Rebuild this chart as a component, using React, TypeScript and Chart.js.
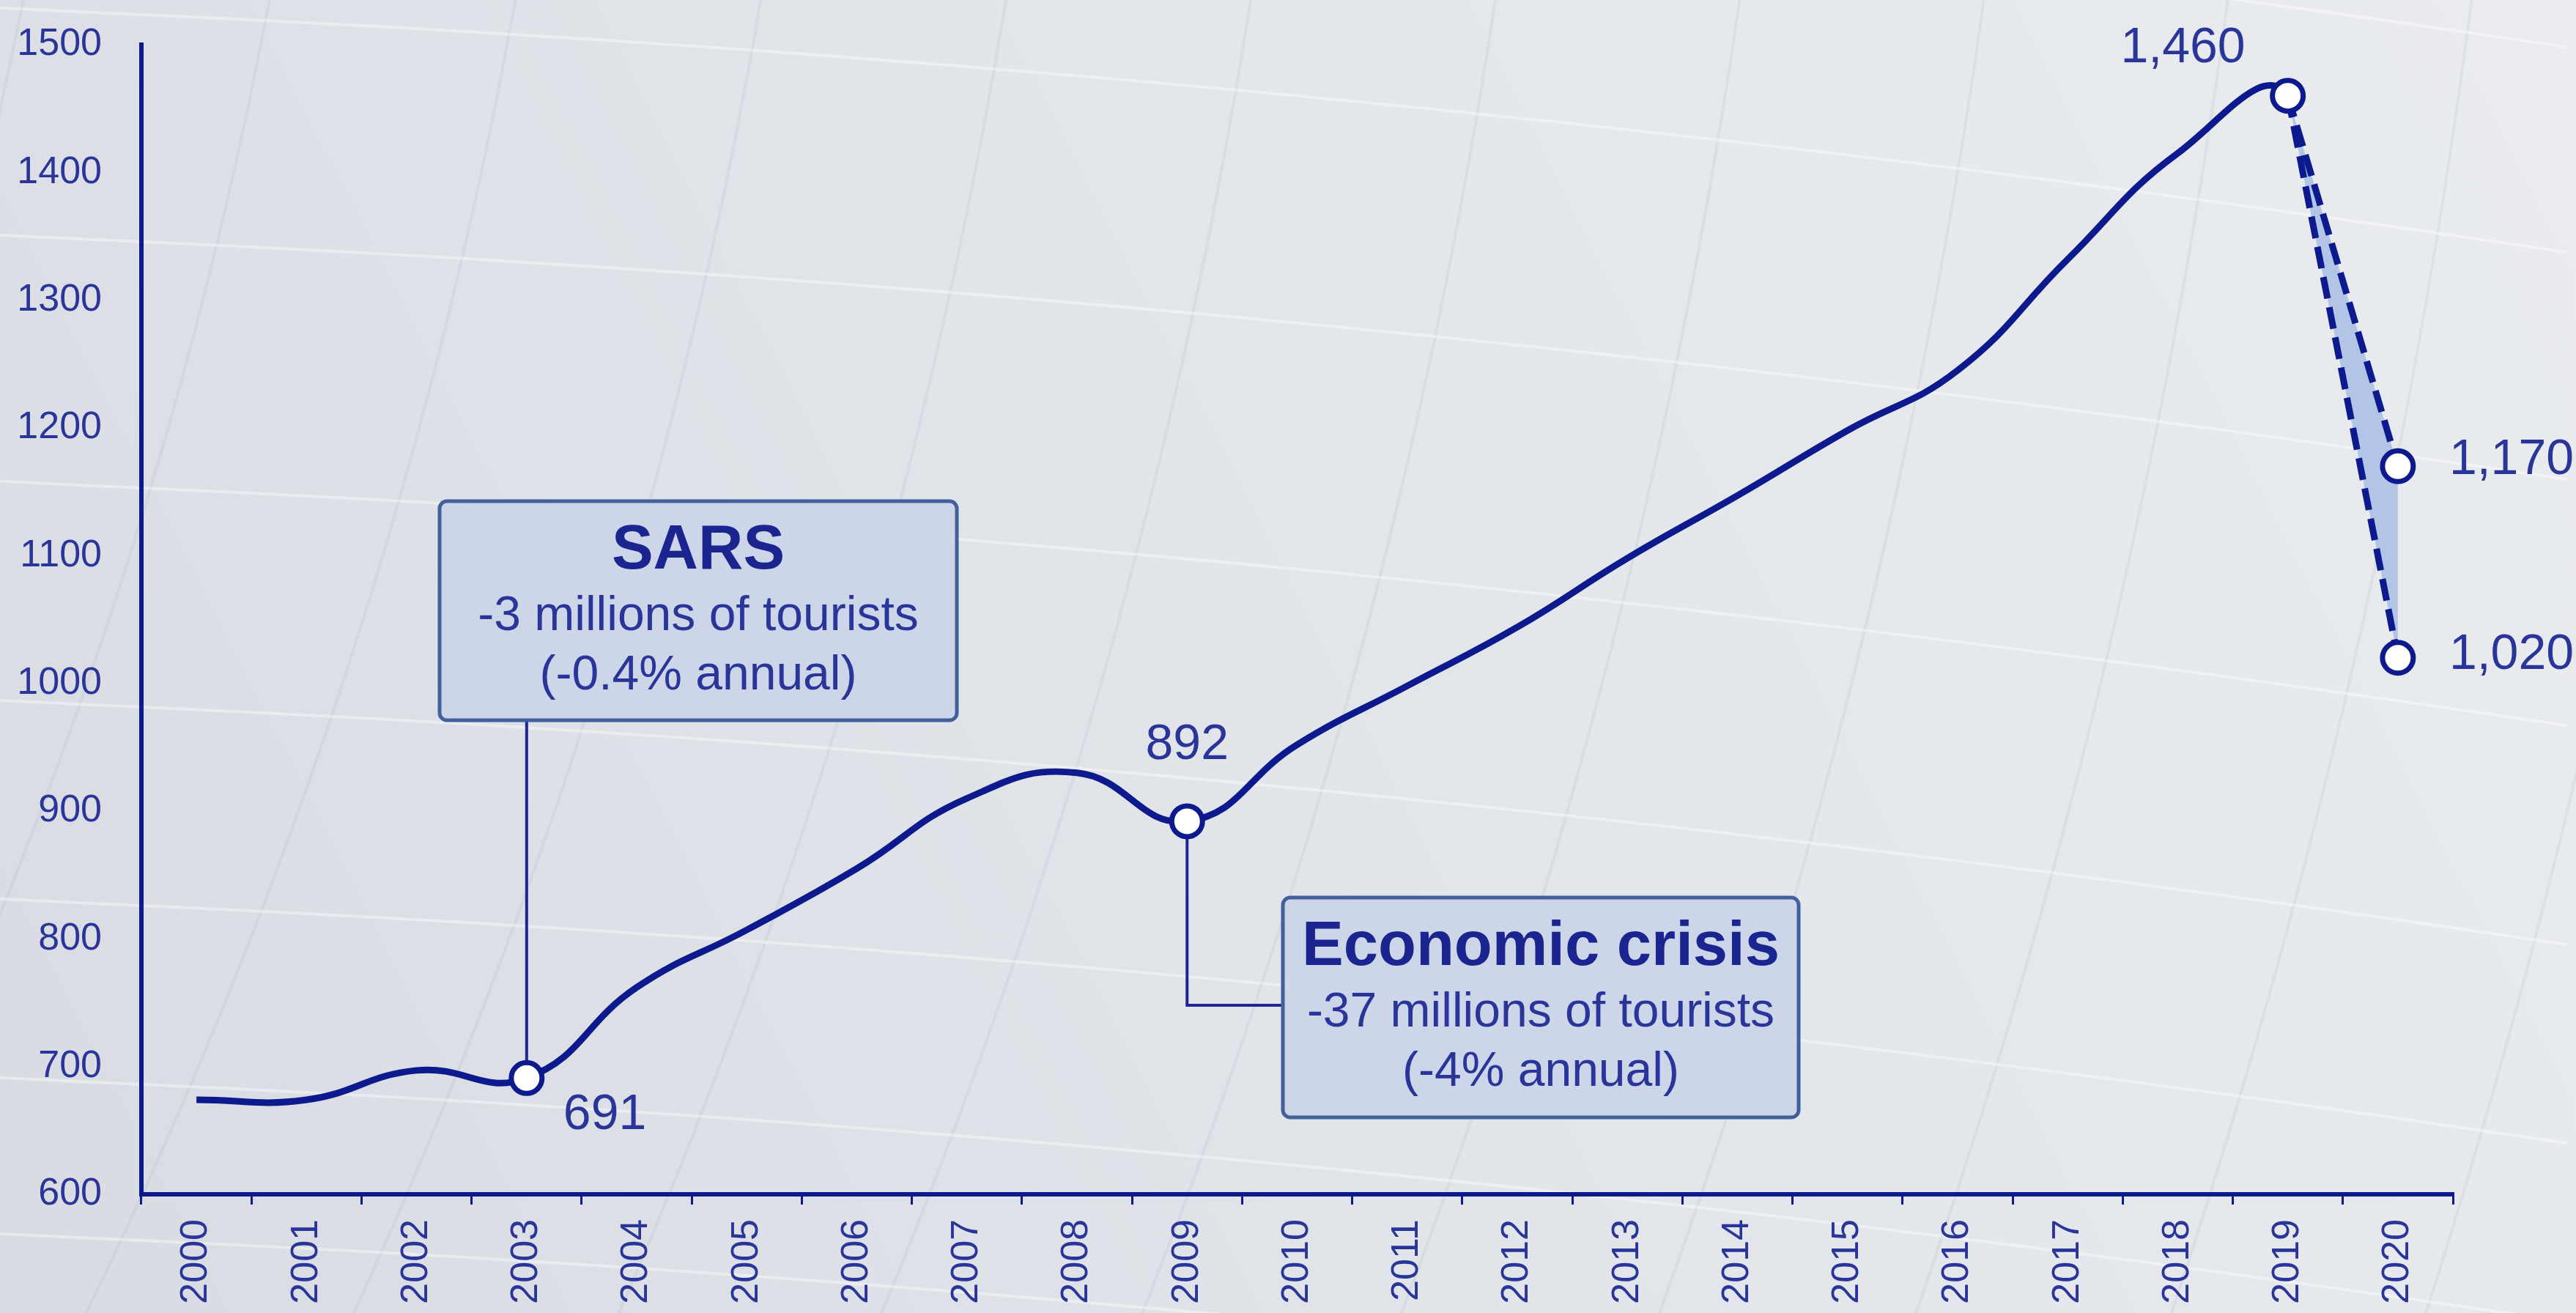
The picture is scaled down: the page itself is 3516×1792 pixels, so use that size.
import React, { useEffect, useRef } from 'react';
import { Chart, registerables } from 'chart.js';

Chart.register(...registerables);

// ---------- data ----------
const years = [
  '2000', '2001', '2002', '2003', '2004', '2005', '2006', '2007', '2008', '2009', '2010',
  '2011', '2012', '2013', '2014', '2015', '2016', '2017', '2018', '2019', '2020',
];
// International tourist arrivals (millions), 2000-2019
const arrivals = [674, 674, 697, 691, 762, 807, 855, 910, 930, 892, 952, 998, 1044, 1098, 1147, 1198, 1245, 1332, 1415, 1460];
// 2020 scenarios (high, low)
const forecast2020 = [1170, 1020];
const markedYears = ['2003', '2009', '2019'];
const yMin = 600;
const yMax = 1500;
const yStep = 100;
const sarsNote = ['SARS', '-3 millions of tourists', '(-0.4% annual)'];
const crisisNote = ['Economic crisis', '-37 millions of tourists', '(-4% annual)'];

// ---------- styles ----------
const NAVY = '#0c1a8e';
const TEXT = '#2a3599';
const FILL = '#b3c5e7';
const LABEL_FONT = '"Liberation Sans", Arial, sans-serif';

const W = 3516;
const H = 1792;

const fmt = (v: number) => v.toLocaleString('en-US');

const bgPlugin = {
  id: 'bgDecor',
  beforeDraw(chart: any) {
    const { ctx } = chart;
    const w = chart.width;
    const h = chart.height;
    ctx.save();
    const g = ctx.createLinearGradient(0, h, w, 0);
    g.addColorStop(0, '#d8dbe2');
    g.addColorStop(0.45, '#e1e4e9');
    g.addColorStop(1, '#eaecef');
    ctx.fillStyle = g;
    ctx.fillRect(0, 0, w, h);
    // faint meridian arcs
    ctx.strokeStyle = 'rgba(150,160,182,0.12)';
    ctx.lineWidth = 4;
    const cx = -6000;
    const cy = -1200;
    for (let r = 6150; r < 10000; r += 330) {
      ctx.beginPath();
      ctx.arc(cx, cy, r, 0, Math.PI / 2);
      ctx.stroke();
    }
    // white parallels
    ctx.strokeStyle = 'rgba(255,255,255,0.4)';
    ctx.lineWidth = 4;
    const starts = [-260, 20, 330, 666, 965, 1236, 1480, 1693];
    for (const y0 of starts) {
      ctx.beginPath();
      for (let x = 0; x <= w; x += 24) {
        const dx = x - 193;
        const y = y0 + 0.045 * dx + 1.6e-5 * dx * Math.abs(dx);
        if (x === 0) ctx.moveTo(x, y);
        else ctx.lineTo(x, y);
      }
      ctx.stroke();
    }
    ctx.restore();
  },
};

const SARS_BOX = { x: 600, y: 684, w: 706, h: 299 };
const CRISIS_BOX = { x: 1751, y: 1225, w: 704, h: 300 };

function drawBox(ctx: CanvasRenderingContext2D, box: any, lines: string[]) {
  ctx.save();
  ctx.beginPath();
  (ctx as any).roundRect(box.x, box.y, box.w, box.h, 10);
  ctx.fillStyle = 'rgba(203,213,232,0.92)';
  ctx.fill();
  ctx.lineWidth = 5;
  ctx.strokeStyle = '#41609c';
  ctx.stroke();
  ctx.textAlign = 'center';
  ctx.textBaseline = 'alphabetic';
  const cx = box.x + box.w / 2;
  ctx.font = `bold 85px ${LABEL_FONT}`;
  ctx.fillStyle = '#1b2590';
  ctx.fillText(lines[0], cx, box.y + 92);
  ctx.font = `66px ${LABEL_FONT}`;
  ctx.fillStyle = TEXT;
  ctx.fillText(lines[1], cx, box.y + 176);
  ctx.fillText(lines[2], cx, box.y + 257);
  ctx.restore();
}

const notesPlugin = {
  id: 'notes',
  beforeDatasetsDraw(chart: any) {
    const { ctx } = chart;
    const xs = chart.scales.x;
    const ys = chart.scales.y;
    const i03 = years.indexOf('2003');
    const i09 = years.indexOf('2009');
    const x03 = xs.getPixelForValue(i03);
    const y03 = ys.getPixelForValue(arrivals[i03]);
    const x09 = xs.getPixelForValue(i09);
    const y09 = ys.getPixelForValue(arrivals[i09]);
    ctx.save();
    ctx.strokeStyle = '#1d2691';
    ctx.lineWidth = 4;
    ctx.beginPath();
    ctx.moveTo(x03, SARS_BOX.y + SARS_BOX.h);
    ctx.lineTo(x03, y03);
    ctx.stroke();
    const elbowY = CRISIS_BOX.y + 147;
    ctx.beginPath();
    ctx.moveTo(x09, y09);
    ctx.lineTo(x09, elbowY);
    ctx.lineTo(CRISIS_BOX.x, elbowY);
    ctx.stroke();
    ctx.restore();
  },
  afterDatasetsDraw(chart: any) {
    const { ctx } = chart;
    const xs = chart.scales.x;
    const ys = chart.scales.y;
    drawBox(ctx, SARS_BOX, sarsNote);
    drawBox(ctx, CRISIS_BOX, crisisNote);

    const px = (i: number) => xs.getPixelForValue(i);
    const py = (v: number) => ys.getPixelForValue(v);
    ctx.save();
    ctx.fillStyle = TEXT;
    ctx.font = `68px ${LABEL_FONT}`;
    ctx.textBaseline = 'alphabetic';
    const i03 = years.indexOf('2003');
    const i09 = years.indexOf('2009');
    const i19 = years.indexOf('2019');
    const i20 = years.indexOf('2020');
    ctx.textAlign = 'left';
    ctx.fillText(fmt(arrivals[i03]), px(i03) + 50, py(arrivals[i03]) + 70);
    ctx.textAlign = 'center';
    ctx.fillText(fmt(arrivals[i09]), px(i09), py(arrivals[i09]) - 85);
    ctx.textAlign = 'right';
    ctx.fillText(fmt(arrivals[i19]), px(i19) - 58, py(arrivals[i19]) - 46);
    ctx.textAlign = 'left';
    ctx.fillText(fmt(forecast2020[0]), px(i20) + 70, py(forecast2020[0]) + 11);
    ctx.fillText(fmt(forecast2020[1]), px(i20) + 70, py(forecast2020[1]) + 15);
    ctx.restore();
  },
};

export default function App() {
  const canvasRef = useRef<HTMLCanvasElement | null>(null);

  useEffect(() => {
    const canvas = canvasRef.current;
    if (!canvas) return;
    const last = years.length - 1;
    const mainSeries = [...arrivals, forecast2020[0]];
    const highSeries = years.map((_, i) => (i === last - 1 ? arrivals[arrivals.length - 1] : i === last ? forecast2020[0] : null));
    const lowSeries = years.map((_, i) => (i === last - 1 ? arrivals[arrivals.length - 1] : i === last ? forecast2020[1] : null));

    const chart = new Chart(canvas, {
      type: 'line',
      data: {
        labels: years,
        datasets: [
          {
            label: 'International tourist arrivals',
            data: mainSeries,
            borderColor: NAVY,
            borderWidth: 9,
            tension: 0.45,
            fill: false,
            segment: {
              borderColor: (c: any) => (c.p1DataIndex === last ? 'rgba(0,0,0,0)' : NAVY),
            },
            pointRadius: (c: any) => (markedYears.includes(years[c.dataIndex]) ? 21 : 0),
            pointBackgroundColor: '#ffffff',
            pointBorderColor: NAVY,
            pointBorderWidth: 7,
          },
          {
            label: '2020 high',
            data: highSeries,
            borderColor: NAVY,
            borderWidth: 9,
            borderDash: [30, 12],
            tension: 0,
            spanGaps: false,
            fill: false,
            pointRadius: (c: any) => (c.dataIndex === last ? 21 : 0),
            pointBackgroundColor: '#ffffff',
            pointBorderColor: NAVY,
            pointBorderWidth: 7,
          },
          {
            label: '2020 low',
            data: lowSeries,
            borderColor: NAVY,
            borderWidth: 9,
            borderDash: [30, 12],
            tension: 0,
            spanGaps: false,
            fill: { target: 1, above: FILL, below: FILL },
            backgroundColor: FILL,
            pointRadius: (c: any) => (c.dataIndex === last ? 21 : 0),
            pointBackgroundColor: '#ffffff',
            pointBorderColor: NAVY,
            pointBorderWidth: 7,
          },
        ],
      },
      options: {
        responsive: false,
        animation: false,
        devicePixelRatio: 1,
        layout: { padding: { top: 61, right: 168, left: 0, bottom: 0 } },
        plugins: {
          legend: { display: false },
          tooltip: { enabled: false },
          title: { display: false },
        },
        scales: {
          x: {
            type: 'category',
            offset: true,
            grid: {
              offset: true,
              drawOnChartArea: false,
              drawTicks: true,
              tickLength: 14,
              color: NAVY,
              lineWidth: 3,
            },
            border: { display: true, color: NAVY, width: 6 },
            ticks: {
              autoSkip: false,
              minRotation: 90,
              maxRotation: 90,
              padding: 20,
              color: TEXT,
              font: { family: LABEL_FONT, size: 52 },
            },
            afterFit: (s: any) => {
              s.height = 162;
            },
          },
          y: {
            min: yMin,
            max: yMax,
            grid: { display: true, drawOnChartArea: false, drawTicks: false },
            border: { display: true, color: NAVY, width: 6 },
            ticks: {
              stepSize: yStep,
              padding: 54,
              color: TEXT,
              font: { family: LABEL_FONT, size: 52 },
              callback: (v: any) => String(v),
            },
            afterFit: (s: any) => {
              s.width = 193;
              s.paddingTop = 20;
              s.paddingBottom = 20;
            },
          },
        },
      },
      plugins: [bgPlugin, notesPlugin],
    } as any);
    return () => chart.destroy();
  }, []);

  return (
    <div style={{ position: 'fixed', left: 0, top: 0, width: W, height: H, overflow: 'hidden' }}>
      <canvas ref={canvasRef} width={W} height={H} style={{ display: 'block', width: W, height: H }} />
    </div>
  );
}
